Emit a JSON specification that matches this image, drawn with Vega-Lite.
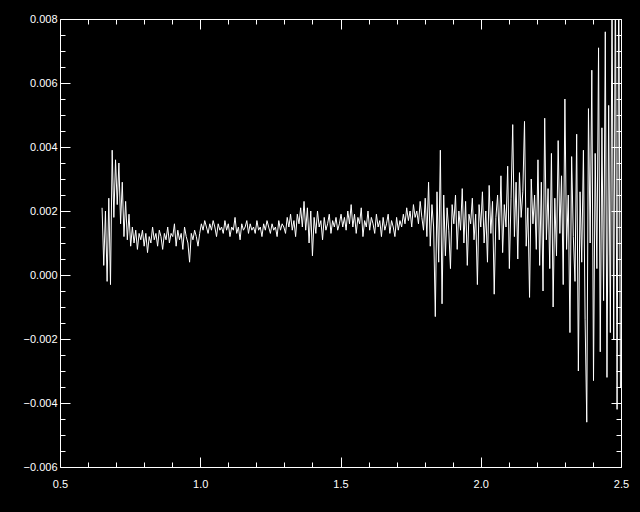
{
  "$schema": "https://vega.github.io/schema/vega-lite/v6.json",
  "width": 561,
  "height": 448,
  "autosize": "none",
  "padding": {"left": 60, "top": 19, "right": 19, "bottom": 45},
  "background": "black",
  "config": {
    "view": {"stroke": null},
    "axis": {"domainColor": "white", "tickColor": "white", "labelColor": "white", "grid": false, "labelFont": "Liberation Sans", "labelFontSize": 11, "labelOverlap": false, "labelBound": false, "labelFlush": false, "domainWidth": 1, "tickWidth": 1}
  },
  "data": {"values": [
{"x":0.650,"y":0.0021},{"x":0.656,"y":0.0003},{"x":0.662,"y":0.0020},{"x":0.668,"y":-0.0002},{"x":0.674,"y":0.0024},{"x":0.680,"y":-0.0003},{"x":0.686,"y":0.0039},{"x":0.692,"y":0.0018},{"x":0.698,"y":0.0036},{"x":0.704,"y":0.0022},{"x":0.710,"y":0.0035},{"x":0.716,"y":0.0016},{"x":0.722,"y":0.0029},{"x":0.728,"y":0.0012},{"x":0.734,"y":0.0023},{"x":0.740,"y":0.0011},{"x":0.746,"y":0.0019},{"x":0.752,"y":0.0009},{"x":0.758,"y":0.0015},{"x":0.764,"y":0.0010},{"x":0.770,"y":0.0014},{"x":0.776,"y":0.0008},{"x":0.782,"y":0.0013},
{"x":0.788,"y":0.0011},{"x":0.794,"y":0.0014},{"x":0.800,"y":0.0009},{"x":0.806,"y":0.0013},{"x":0.812,"y":0.0007},{"x":0.818,"y":0.0012},{"x":0.824,"y":0.0010},{"x":0.830,"y":0.0015},{"x":0.836,"y":0.0011},{"x":0.842,"y":0.0013},{"x":0.848,"y":0.0009},{"x":0.854,"y":0.0014},{"x":0.860,"y":0.0012},{"x":0.866,"y":0.0008},{"x":0.872,"y":0.0013},{"x":0.878,"y":0.0011},{"x":0.884,"y":0.0015},{"x":0.890,"y":0.0010},{"x":0.896,"y":0.0013},{"x":0.902,"y":0.0012},{"x":0.908,"y":0.0016},{"x":0.914,"y":0.0009},{"x":0.920,"y":0.0014},{"x":0.926,"y":0.0011},{"x":0.932,"y":0.0013},{"x":0.938,"y":0.0008},{"x":0.944,"y":0.0015},{"x":0.950,"y":0.0012},{"x":0.956,"y":0.0010},{"x":0.962,"y":0.0004},{"x":0.968,"y":0.0013},{"x":0.974,"y":0.0011},{"x":0.980,"y":0.0014},{"x":0.986,"y":0.0012},{"x":0.992,"y":0.0009},{"x":0.998,"y":0.0013},
{"x":1.004,"y":0.0016},{"x":1.010,"y":0.0014},{"x":1.016,"y":0.0017},{"x":1.022,"y":0.0015},{"x":1.028,"y":0.0013},{"x":1.034,"y":0.0016},{"x":1.040,"y":0.0014},{"x":1.046,"y":0.0017},{"x":1.052,"y":0.0015},{"x":1.058,"y":0.0012},{"x":1.064,"y":0.0016},{"x":1.070,"y":0.0014},{"x":1.076,"y":0.0015},{"x":1.082,"y":0.0013},{"x":1.088,"y":0.0017},{"x":1.094,"y":0.0014},{"x":1.100,"y":0.0016},{"x":1.106,"y":0.0012},{"x":1.112,"y":0.0015},{"x":1.118,"y":0.0014},{"x":1.124,"y":0.0018},{"x":1.130,"y":0.0013},{"x":1.136,"y":0.0015},{"x":1.142,"y":0.0011},{"x":1.148,"y":0.0016},{"x":1.154,"y":0.0014},{"x":1.160,"y":0.0015},{"x":1.166,"y":0.0017},{"x":1.172,"y":0.0013},{"x":1.178,"y":0.0016},{"x":1.184,"y":0.0014},{"x":1.190,"y":0.0015},{"x":1.196,"y":0.0013},{"x":1.202,"y":0.0017},{"x":1.208,"y":0.0014},{"x":1.214,"y":0.0015},{"x":1.220,"y":0.0012},{"x":1.226,"y":0.0016},{"x":1.232,"y":0.0014},{"x":1.238,"y":0.0017},{"x":1.244,"y":0.0015},{"x":1.250,"y":0.0013},{"x":1.256,"y":0.0016},{"x":1.262,"y":0.0014},{"x":1.268,"y":0.0015},{"x":1.274,"y":0.0012},{"x":1.280,"y":0.0017},{"x":1.286,"y":0.0014},{"x":1.292,"y":0.0016},{"x":1.298,"y":0.0015},
{"x":1.304,"y":0.0013},{"x":1.310,"y":0.0018},{"x":1.316,"y":0.0015},{"x":1.322,"y":0.0019},{"x":1.328,"y":0.0014},{"x":1.334,"y":0.0017},{"x":1.340,"y":0.0012},{"x":1.346,"y":0.0019},{"x":1.352,"y":0.0016},{"x":1.358,"y":0.0021},{"x":1.364,"y":0.0015},{"x":1.370,"y":0.0023},{"x":1.376,"y":0.0014},{"x":1.382,"y":0.0021},{"x":1.388,"y":0.0010},{"x":1.394,"y":0.0020},{"x":1.400,"y":0.0006},{"x":1.406,"y":0.0018},{"x":1.412,"y":0.0013},{"x":1.418,"y":0.0020},{"x":1.424,"y":0.0015},{"x":1.430,"y":0.0017},{"x":1.436,"y":0.0011},{"x":1.442,"y":0.0018},{"x":1.448,"y":0.0014},{"x":1.454,"y":0.0016},{"x":1.460,"y":0.0019},{"x":1.466,"y":0.0013},{"x":1.472,"y":0.0017},{"x":1.478,"y":0.0015},{"x":1.484,"y":0.0018},{"x":1.490,"y":0.0014},{"x":1.496,"y":0.0016},{"x":1.502,"y":0.0019},
{"x":1.508,"y":0.0015},{"x":1.514,"y":0.0018},{"x":1.520,"y":0.0014},{"x":1.526,"y":0.0020},{"x":1.532,"y":0.0016},{"x":1.538,"y":0.0022},{"x":1.544,"y":0.0015},{"x":1.550,"y":0.0019},{"x":1.556,"y":0.0013},{"x":1.562,"y":0.0018},{"x":1.568,"y":0.0016},{"x":1.574,"y":0.0021},{"x":1.580,"y":0.0012},{"x":1.586,"y":0.0017},{"x":1.592,"y":0.0015},{"x":1.598,"y":0.0020},{"x":1.604,"y":0.0014},{"x":1.610,"y":0.0018},{"x":1.616,"y":0.0016},{"x":1.622,"y":0.0013},{"x":1.628,"y":0.0019},{"x":1.634,"y":0.0015},{"x":1.640,"y":0.0017},{"x":1.646,"y":0.0012},{"x":1.652,"y":0.0018},{"x":1.658,"y":0.0014},{"x":1.664,"y":0.0016},{"x":1.670,"y":0.0019},{"x":1.676,"y":0.0013},{"x":1.682,"y":0.0017},{"x":1.688,"y":0.0015},{"x":1.694,"y":0.0012},{"x":1.700,"y":0.0018},{"x":1.706,"y":0.0014},{"x":1.712,"y":0.0017},{"x":1.718,"y":0.0015},{"x":1.724,"y":0.0019},{"x":1.730,"y":0.0016},{"x":1.736,"y":0.0021},{"x":1.742,"y":0.0017},{"x":1.748,"y":0.0020},{"x":1.754,"y":0.0015},{"x":1.760,"y":0.0022},{"x":1.766,"y":0.0018},{"x":1.772,"y":0.0020},{"x":1.778,"y":0.0016},{"x":1.784,"y":0.0023},{"x":1.790,"y":0.0018},{"x":1.796,"y":0.0014},{"x":1.802,"y":0.0024},
{"x":1.808,"y":0.0012},{"x":1.814,"y":0.0029},{"x":1.820,"y":0.0009},{"x":1.826,"y":0.0022},{"x":1.832,"y":0.0015},{"x":1.838,"y":-0.0013},{"x":1.844,"y":0.0026},{"x":1.850,"y":0.0004},{"x":1.856,"y":0.0039},{"x":1.862,"y":-0.0009},{"x":1.868,"y":0.0025},{"x":1.874,"y":0.0006},{"x":1.880,"y":0.0021},{"x":1.886,"y":0.0014},{"x":1.892,"y":0.0002},{"x":1.898,"y":0.0022},{"x":1.904,"y":0.0016},{"x":1.910,"y":0.0025},{"x":1.916,"y":0.0008},{"x":1.922,"y":0.0020},{"x":1.928,"y":0.0014},{"x":1.934,"y":0.0027},{"x":1.940,"y":0.0010},{"x":1.946,"y":0.0023},{"x":1.952,"y":0.0003},{"x":1.958,"y":0.0019},{"x":1.964,"y":0.0016},{"x":1.970,"y":0.0024},{"x":1.976,"y":0.0011},{"x":1.982,"y":0.0019},{"x":1.988,"y":-0.0003},{"x":1.994,"y":0.0022},
{"x":2.000,"y":0.0015},{"x":2.006,"y":0.0026},{"x":2.012,"y":0.0010},{"x":2.018,"y":0.0020},{"x":2.024,"y":0.0004},{"x":2.030,"y":0.0028},{"x":2.036,"y":0.0013},{"x":2.042,"y":0.0023},{"x":2.048,"y":-0.0006},{"x":2.054,"y":0.0018},{"x":2.060,"y":0.0025},{"x":2.066,"y":0.0011},{"x":2.072,"y":0.0031},{"x":2.078,"y":0.0007},{"x":2.084,"y":0.0022},{"x":2.090,"y":0.0015},{"x":2.096,"y":0.0034},{"x":2.102,"y":0.0002},{"x":2.108,"y":0.0024},{"x":2.114,"y":0.0047},{"x":2.120,"y":0.0012},{"x":2.126,"y":0.0029},{"x":2.132,"y":0.0005},{"x":2.138,"y":0.0032},{"x":2.144,"y":0.0018},{"x":2.150,"y":0.0026},{"x":2.156,"y":0.0048},{"x":2.162,"y":0.0009},{"x":2.168,"y":0.0021},{"x":2.174,"y":-0.0007},{"x":2.180,"y":0.0030},{"x":2.186,"y":0.0016},{"x":2.192,"y":0.0025},{"x":2.198,"y":0.0008},{"x":2.204,"y":0.0036},
{"x":2.210,"y":0.0003},{"x":2.216,"y":0.0029},{"x":2.222,"y":-0.0005},{"x":2.228,"y":0.0049},{"x":2.234,"y":0.0011},{"x":2.240,"y":0.0027},{"x":2.246,"y":0.0002},{"x":2.252,"y":0.0038},{"x":2.258,"y":-0.0010},{"x":2.264,"y":0.0024},{"x":2.270,"y":0.0006},{"x":2.276,"y":0.0042},{"x":2.282,"y":0.0013},{"x":2.288,"y":0.0031},{"x":2.294,"y":-0.0003},{"x":2.300,"y":0.0055},{"x":2.306,"y":0.0008},{"x":2.312,"y":0.0025},{"x":2.318,"y":-0.0018},{"x":2.324,"y":0.0037},{"x":2.330,"y":0.0012},{"x":2.336,"y":-0.0002},{"x":2.342,"y":0.0044},{"x":2.348,"y":-0.0030},{"x":2.354,"y":0.0026},{"x":2.360,"y":0.0004},{"x":2.366,"y":0.0039},{"x":2.372,"y":-0.0014},{"x":2.378,"y":-0.0046},
{"x":2.384,"y":0.0052},{"x":2.390,"y":0.0010},{"x":2.396,"y":0.0064},{"x":2.402,"y":-0.0033},{"x":2.408,"y":0.0038},{"x":2.414,"y":0.0002},{"x":2.420,"y":0.0071},{"x":2.426,"y":-0.0024},{"x":2.432,"y":0.0046},{"x":2.438,"y":-0.0008},{"x":2.444,"y":0.0076},{"x":2.450,"y":-0.0032},{"x":2.456,"y":0.0053},{"x":2.462,"y":-0.0018},{"x":2.468,"y":0.0088},{"x":2.474,"y":-0.0020},{"x":2.480,"y":0.0095},{"x":2.486,"y":-0.0042},{"x":2.492,"y":0.0098},{"x":2.498,"y":-0.0035}
  ]},
  "layer": [
    {
      "mark": {"type": "line", "color": "white", "strokeWidth": 1, "clip": true, "interpolate": "linear"},
      "encoding": {
        "x": {"field": "x", "type": "quantitative", "title": null,
          "scale": {"domain": [0.5, 2.5], "nice": false, "zero": false},
          "axis": {"orient": "bottom",
            "values": [0.5,0.6,0.7,0.8,0.9,1.0,1.1,1.2,1.3,1.4,1.5,1.6,1.7,1.8,1.9,2.0,2.1,2.2,2.3,2.4,2.5],
            "labelExpr": "abs(round(datum.value*10)) % 5 == 0 ? format(datum.value, '.1f') : ''",
            "tickSize": {"condition": {"test": "abs(round(datum.value*10)) % 5 == 0", "value": -10}, "value": -5},
            "labelPadding": 21}},
        "y": {"field": "y", "type": "quantitative", "title": null,
          "scale": {"domain": [-0.006, 0.008], "nice": false, "zero": false},
          "axis": {"orient": "left",
            "values": [-0.006,-0.0055,-0.005,-0.0045,-0.004,-0.0035,-0.003,-0.0025,-0.002,-0.0015,-0.001,-0.0005,0,0.0005,0.001,0.0015,0.002,0.0025,0.003,0.0035,0.004,0.0045,0.005,0.0055,0.006,0.0065,0.007,0.0075,0.008],
            "labelExpr": "abs(round(datum.value*2000)) % 4 == 0 ? format(datum.value, '.3f') : ''",
            "tickSize": {"condition": {"test": "abs(round(datum.value*2000)) % 4 == 0", "value": -10}, "value": -5},
            "labelPadding": 13}}
      }
    },
    {
      "mark": {"type": "line", "opacity": 0, "clip": true},
      "encoding": {
        "x": {"field": "x", "type": "quantitative", "title": null,
          "scale": {"domain": [0.5, 2.5], "nice": false, "zero": false},
          "axis": {"orient": "top", "labels": false,
            "values": [0.5,0.6,0.7,0.8,0.9,1.0,1.1,1.2,1.3,1.4,1.5,1.6,1.7,1.8,1.9,2.0,2.1,2.2,2.3,2.4,2.5],
            "tickSize": {"condition": {"test": "abs(round(datum.value*10)) % 5 == 0", "value": -10}, "value": -5}}},
        "y": {"field": "y", "type": "quantitative", "title": null,
          "scale": {"domain": [-0.006, 0.008], "nice": false, "zero": false},
          "axis": {"orient": "right", "labels": false,
            "values": [-0.006,-0.0055,-0.005,-0.0045,-0.004,-0.0035,-0.003,-0.0025,-0.002,-0.0015,-0.001,-0.0005,0,0.0005,0.001,0.0015,0.002,0.0025,0.003,0.0035,0.004,0.0045,0.005,0.0055,0.006,0.0065,0.007,0.0075,0.008],
            "tickSize": {"condition": {"test": "abs(round(datum.value*2000)) % 4 == 0", "value": -10}, "value": -5}}}
      }
    }
  ],
  "resolve": {"axis": {"x": "independent", "y": "independent"}}
}
